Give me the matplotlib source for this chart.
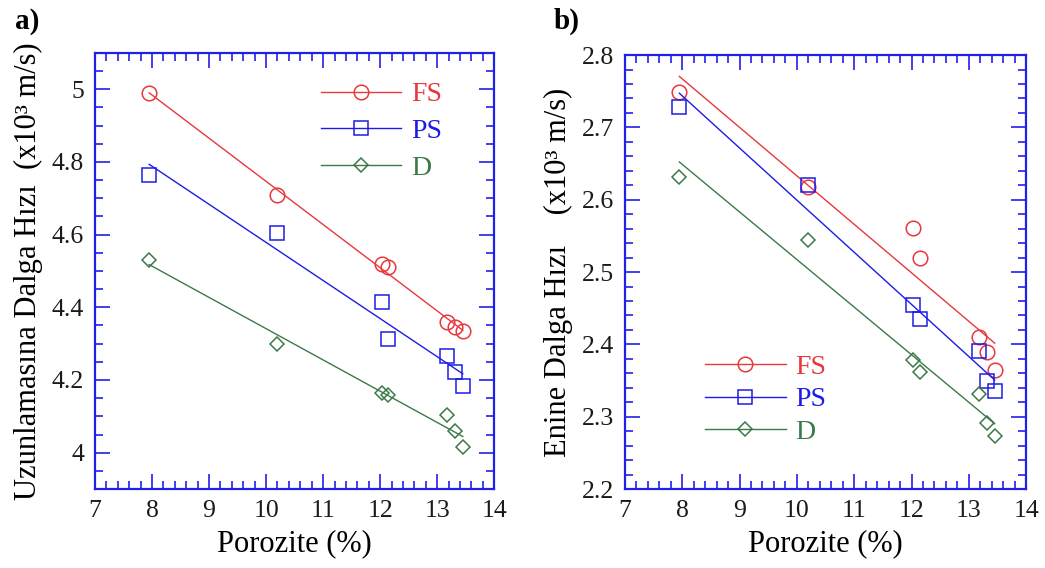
import numpy as np
import matplotlib
matplotlib.use("Agg")
import matplotlib.pyplot as plt
from matplotlib.lines import Line2D
from matplotlib.ticker import MultipleLocator

plt.rcParams['font.family'] = ['Liberation Serif', 'DejaVu Serif']

# porozite (%) - ayni numuneler her iki grafikte
poro = [7.95, 10.2, 12.03, 12.14, 13.17, 13.31, 13.45]

# a) boyuna dalga hizi (x10^3 m/s)
vp_fs = [4.99, 4.71, 4.52, 4.51, 4.36, 4.345, 4.335]
vp_ps = [4.763, 4.603, 4.415, 4.312, 4.267, 4.223, 4.183]
vp_d = [4.53, 4.30, 4.163, 4.16, 4.105, 4.06, 4.017]

# b) enine dalga hizi (x10^3 m/s)
vs_fs = [2.749, 2.618, 2.561, 2.519, 2.41, 2.389, 2.364]
vs_ps = [2.728, 2.62, 2.454, 2.435, 2.391, 2.35, 2.335]
vs_d = [2.632, 2.545, 2.378, 2.362, 2.332, 2.292, 2.274]

labels = ['FS', 'PS', 'D']
renk = ['#e8383c', '#1c1ce6', '#3b7a48']
isaret = ['o', 's', 'D']
boyut = [10.5, 10.5, 7.5]

AXC = '#2020e8'


def ciz(ax, seriler):
    x = np.array(poro)
    for y, lab, c, m, ms in zip(seriler, labels, renk, isaret, boyut):
        ax.plot(x, y, m, ls='none', mfc='none', mec=c, ms=ms, mew=1.1)
        k = np.polyfit(x, y, 1)
        xx = np.array([x.min(), x.max()])
        ax.plot(xx, np.polyval(k, xx), '-', color=c, lw=1.0)


def eksen(ax):
    for s in ax.spines.values():
        s.set_color(AXC)
        s.set_linewidth(1.6)
    ax.set_xlim(7, 14)
    ax.xaxis.set_major_locator(MultipleLocator(1))
    ax.xaxis.set_minor_locator(MultipleLocator(0.2))
    ax.tick_params(which='both', direction='in', top=True, right=True,
                   color=AXC, width=1.2, labelsize=18.5, labelcolor='#1a1a1a')
    ax.tick_params(which='major', length=11, pad=8)
    ax.tick_params(which='minor', length=6)
    ax.set_xlabel('Porozite (%)', fontsize=22, labelpad=5)


def lejant(ax, loc, bbox, spacing):
    h = [Line2D([], [], color=c, marker=m, ms=ms, mfc='none', mec=c, lw=1.0, mew=1.1)
         for c, m, ms in zip(renk, isaret, boyut)]
    leg = ax.legend(h, labels, loc=loc, bbox_to_anchor=bbox, frameon=False,
                    fontsize=20, handlelength=2.9, handletextpad=0.35,
                    labelspacing=spacing, borderaxespad=0, borderpad=0)
    for t, c in zip(leg.get_texts(), renk):
        t.set_color(c)


fig = plt.figure(figsize=(10.45, 5.68), dpi=100)
ax1 = fig.add_axes([0.0909, 0.139, 0.382, 0.768])
ax2 = fig.add_axes([0.598, 0.139, 0.384, 0.764])

ciz(ax1, [vp_fs, vp_ps, vp_d])
eksen(ax1)
ax1.set_ylim(3.9, 5.1)
ax1.yaxis.set_minor_locator(MultipleLocator(0.05))
ax1.set_yticks([4, 4.2, 4.4, 4.6, 4.8, 5])
ax1.set_yticklabels(['4', '4.2', '4.4', '4.6', '4.8', '5'])
ax1.set_ylabel('Uzunlamasına Dalga Hızı  (x10³ m/s)', fontsize=22, labelpad=6)
lejant(ax1, 'upper left', (0.565, 0.933), 0.4)

ciz(ax2, [vs_fs, vs_ps, vs_d])
eksen(ax2)
ax2.set_ylim(2.2, 2.8)
ax2.yaxis.set_major_locator(MultipleLocator(0.1))
ax2.yaxis.set_minor_locator(MultipleLocator(0.02))
ax2.set_ylabel('Enine Dalga Hızı    (x10³ m/s)', fontsize=22, labelpad=6)
lejant(ax2, 'upper left', (0.2, 0.31), 0.25)

fig.text(0.014, 0.962, 'a)', fontsize=21, fontweight='bold', va='center')
fig.text(0.530, 0.962, 'b)', fontsize=21, fontweight='bold', va='center')

fig.savefig('out.png', dpi=100)
